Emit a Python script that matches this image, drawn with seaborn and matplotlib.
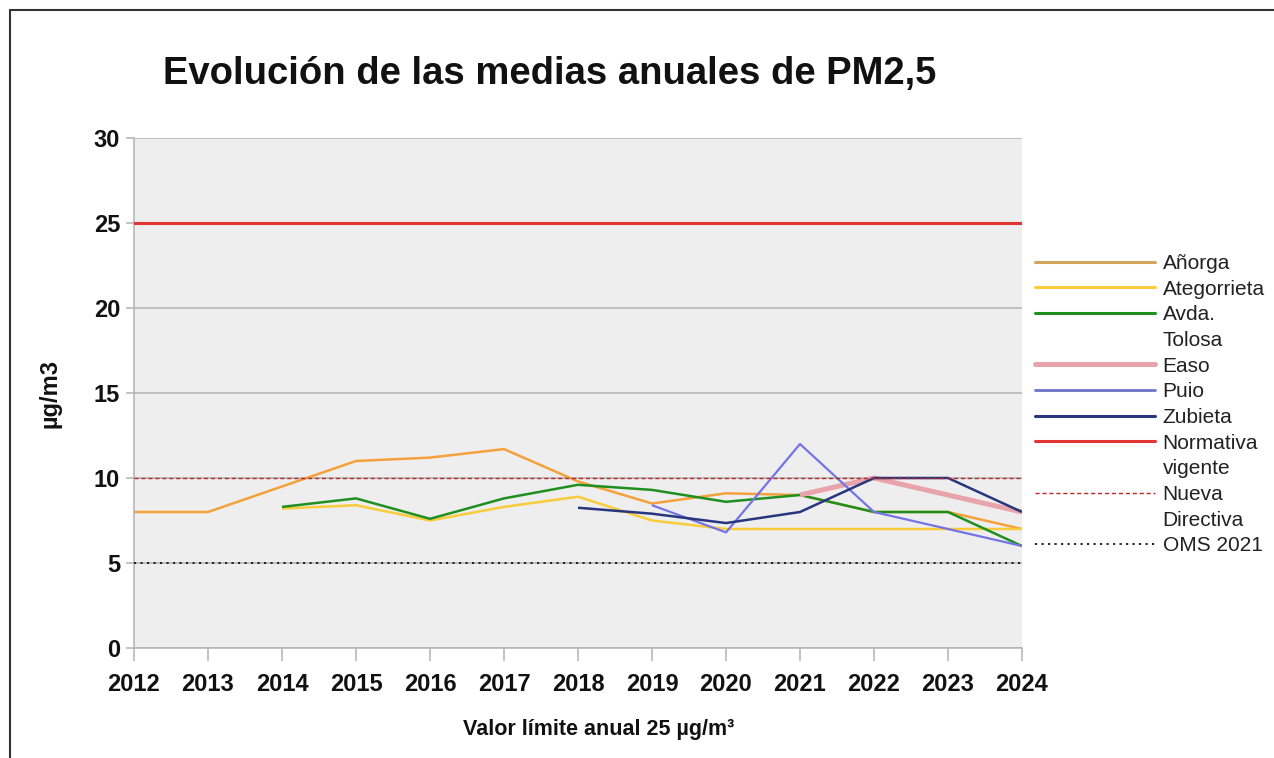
import numpy as np
import pandas as pd
import matplotlib
matplotlib.use("Agg")
import matplotlib.pyplot as plt
from matplotlib.lines import Line2D
import seaborn as sns

# ---- data ----
years = [2012, 2013, 2014, 2015, 2016, 2017, 2018, 2019, 2020, 2021, 2022, 2023, 2024]
anorga = [8.0, 8.0, 9.5, 11.0, 11.2, 11.7, 9.8, 8.5, 9.1, 9.0, 8.0, 8.0, 7.0]
ategorrieta = [None, None, 8.2, 8.4, 7.5, 8.3, 8.9, 7.5, 7.0, 7.0, 7.0, 7.0, 7.0]
avda_tolosa = [None, None, 8.3, 8.8, 7.6, 8.8, 9.6, 9.3, 8.6, 9.0, 8.0, 8.0, 6.0]
easo = [None, None, None, None, None, None, None, None, None, 9.0, 10.0, 9.0, 8.0]
puio = [None, None, None, None, None, None, None, 8.4, 6.8, 12.0, 8.0, 7.0, 6.0]
zubieta = [None, None, None, None, None, None, 8.25, 7.9, 7.35, 8.0, 10.0, 10.0, 8.0]

normativa_vigente = 25
nueva_directiva = 10
oms_2021 = 5

series_names = ["Añorga", "Ategorrieta", "Avda.\nTolosa", "Easo", "Puio", "Zubieta"]
series_values = [anorga, ategorrieta, avda_tolosa, easo, puio, zubieta]
series_colors = ["#f4a13b", "#f8cc3a", "#1f8f1f", "#e8a3ab", "#7474e6", "#27367e"]
legend_colors = ["#d4a55c", "#f8cc3a", "#1f8f1f", "#e8a3ab", "#6d72c8", "#27367e"]
series_widths = [1.8, 1.8, 1.8, 3.6, 1.6, 1.8]

title = "Evolución de las medias anuales de PM2,5"
ylabel = "µg/m3"
xlabel = "Valor límite anual 25 µg/m³"

# ---- figure ----
sns.set_theme(style="white")
plt.rcParams["font.family"] = ["Liberation Sans", "DejaVu Sans"]

fig = plt.figure(figsize=(12.74, 7.58), dpi=100)
ax = fig.add_axes([134 / 1274, 1 - 648 / 758, (1022 - 134) / 1274, (648 - 138) / 758])
ax.set_facecolor("#eeeeee")

for name, vals, col, lw in zip(series_names, series_values, series_colors, series_widths):
    df = pd.DataFrame({"year": years, "value": vals}).dropna()
    sns.lineplot(data=df, x="year", y="value", color=col, linewidth=lw, ax=ax,
                 legend=False, solid_capstyle="butt")

ax.axhline(normativa_vigente, color="#e03535", linewidth=2.2, zorder=3)
ax.axhline(nueva_directiva, color="#b82828", linewidth=1.0, linestyle=(0, (3, 2)), zorder=3)
ax.axhline(oms_2021, color="#111111", linewidth=1.3, linestyle=(0, (1.2, 2.4)), zorder=3)

ax.set_xlim(years[0], years[-1])
ax.set_ylim(0, 30)
ax.set_yticks(range(0, 31, 5))
ax.set_xticks(years)
ax.set_xticklabels([str(y) for y in years], fontweight="bold", fontsize=17)
ax.set_yticklabels([str(v) for v in range(0, 31, 5)], fontweight="bold", fontsize=17)
ax.yaxis.grid(True, color="#b3b3b3", linewidth=1.1)
ax.set_axisbelow(True)
ax.set_xlabel("")
ax.set_ylabel("")
for s in ["top", "right"]:
    ax.spines[s].set_visible(False)
for s in ["left", "bottom"]:
    ax.spines[s].set_color("#b3b3b3")
    ax.spines[s].set_linewidth(1.1)
ax.tick_params(axis="both", which="both", direction="out", length=6, width=1.1,
               color="#b3b3b3", colors="#111111", left=True, bottom=True)
ax.tick_params(axis="y", pad=4)
ax.tick_params(axis="x", length=9, pad=9)

# legend with the first line of each label aligned with its handle
handles, labels = [], []
leg_items = [("Añorga", legend_colors[0], 2.2, "-"),
             ("Ategorrieta", legend_colors[1], 2.2, "-"),
             ("Avda.", legend_colors[2], 2.2, "-"),
             ("Tolosa", "none", 1, "-"),
             ("Easo", legend_colors[3], 3.6, "-"),
             ("Puio", legend_colors[4], 2.0, "-"),
             ("Zubieta", legend_colors[5], 2.2, "-"),
             ("Normativa", "#e03535", 2.2, "-"),
             ("vigente", "none", 1, "-"),
             ("Nueva", "#b82828", 1.0, (0, (3, 2))),
             ("Directiva", "none", 1, "-"),
             ("OMS 2021", "#111111", 1.3, (0, (1.2, 2.4)))]
for lab, col, lw, ls in leg_items:
    handles.append(Line2D([0], [0], color=col, linewidth=lw, linestyle=ls))
    labels.append(lab)
fig.legend(handles, labels, loc="upper left", bbox_to_anchor=(1035 / 1274, 1 - 254 / 758),
           frameon=False, fontsize=15, handlelength=5.75, handletextpad=0.38,
           labelspacing=0.32, borderpad=0, borderaxespad=0, labelcolor="#222222")

fig.text(550 / 1274, 1 - 74 / 758, title, ha="center", va="center",
         fontsize=27.5, fontweight="bold", color="#111111")
fig.text(50 / 1274, 1 - 393 / 758, ylabel, ha="center", va="center", rotation=90,
         fontsize=17, fontweight="bold", color="#111111")
fig.text(599 / 1274, 1 - 729 / 758, xlabel, ha="center", va="center",
         fontsize=15.5, fontweight="bold", color="#111111")

# outer frame (left and top edges)
fig.add_artist(Line2D([10 / 1274, 10 / 1274], [0, 1 - 10 / 758], transform=fig.transFigure,
                      color="#333333", linewidth=1.5))
fig.add_artist(Line2D([10 / 1274, 1], [1 - 10 / 758, 1 - 10 / 758], transform=fig.transFigure,
                      color="#333333", linewidth=1.5))

fig.savefig("out.png", dpi=100, facecolor="white")
